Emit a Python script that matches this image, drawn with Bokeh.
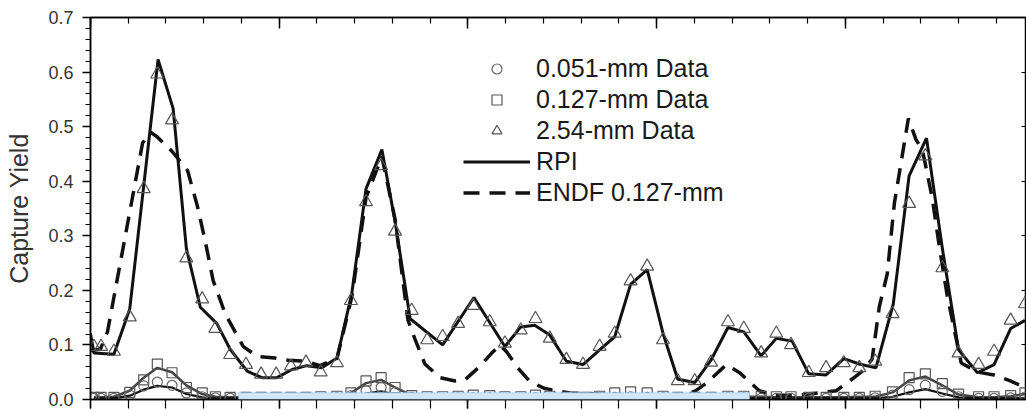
from bokeh.plotting import figure
from bokeh.models import (Range1d, LinearAxis, FixedTicker, CustomJSTickFormatter,
                          Legend, LegendItem, BoxAnnotation)
from bokeh.embed import file_html
from bokeh.resources import INLINE

# ---------------- data ----------------
energy_254 = [0.09, 0.28, 0.62, 1.04, 1.41, 1.77, 2.16, 2.54, 2.96, 3.31,
              3.70, 4.12, 4.52, 4.92, 5.31, 5.71, 6.10, 6.53, 6.90, 7.30,
              7.70, 8.07, 8.51, 8.92, 9.33, 9.74, 10.14, 10.58, 10.98, 11.40,
              11.79, 12.17, 12.61, 13.05, 13.49, 13.89, 14.31, 14.75, 15.17, 15.56,
              16.01, 16.44, 16.89, 17.31, 17.77, 18.17, 18.56, 19.03, 19.49, 19.96,
              20.37, 20.79, 21.25, 21.69, 22.12, 22.57, 23.00, 23.53, 23.94, 24.38, 24.76]
yield_254 = [0.097, 0.097, 0.088, 0.151, 0.386, 0.596, 0.512, 0.259, 0.184, 0.130,
             0.082, 0.064, 0.046, 0.046, 0.061, 0.068, 0.050, 0.067, 0.181, 0.362,
             0.428, 0.308, 0.163, 0.109, 0.115, 0.139, 0.172, 0.142, 0.103, 0.127,
             0.148, 0.112, 0.073, 0.064, 0.097, 0.121, 0.217, 0.244, 0.109, 0.034,
             0.034, 0.068, 0.142, 0.130, 0.085, 0.121, 0.100, 0.049, 0.058, 0.067,
             0.058, 0.070, 0.157, 0.359, 0.446, 0.241, 0.085, 0.064, 0.088, 0.145, 0.175]
yield_127 = [0.004, 0.004, 0.004, 0.013, 0.036, 0.065, 0.049, 0.022, 0.012, 0.005,
             0.004, 0.004, 0.004, 0.004, 0.004, 0.004, 0.005, 0.006, 0.012, 0.034,
             0.040, 0.022, 0.007, 0.005, 0.005, 0.006, 0.008, 0.007, 0.005, 0.005,
             0.008, 0.006, 0.004, 0.004, 0.006, 0.012, 0.014, 0.012, 0.006, 0.004,
             0.004, 0.004, 0.006, 0.006, 0.006, 0.005, 0.005, 0.004, 0.004, 0.004,
             0.004, 0.006, 0.014, 0.040, 0.047, 0.029, 0.010, 0.005, 0.005, 0.007, 0.012]
yield_051 = [0.002, 0.002, 0.002, 0.008, 0.025, 0.032, 0.026, 0.012, 0.005, 0.003,
             0.002, 0.002, 0.002, 0.002, 0.002, 0.002, 0.002, 0.003, 0.007, 0.016,
             0.022, 0.013, 0.004, 0.002, 0.002, 0.003, 0.003, 0.003, 0.002, 0.002,
             0.003, 0.002, 0.002, 0.002, 0.003, 0.004, 0.005, 0.004, 0.003, 0.002,
             0.002, 0.002, 0.003, 0.003, 0.002, 0.002, 0.002, 0.002, 0.002, 0.002,
             0.002, 0.003, 0.008, 0.018, 0.026, 0.015, 0.005, 0.002, 0.002, 0.003, 0.004]
rpi_127 = [0.004, 0.004, 0.005, 0.016, 0.040, 0.058, 0.050, 0.026, 0.010, 0.005,
           0.004, 0.004, 0.004, 0.004, 0.004, 0.004, 0.004, 0.006, 0.012, 0.030,
           0.036, 0.022, 0.007, 0.004, 0.004, 0.005, 0.006, 0.006, 0.005, 0.005,
           0.006, 0.005, 0.004, 0.004, 0.005, 0.008, 0.010, 0.009, 0.005, 0.004,
           0.004, 0.004, 0.005, 0.005, 0.005, 0.004, 0.004, 0.004, 0.004, 0.004,
           0.005, 0.005, 0.013, 0.035, 0.042, 0.026, 0.009, 0.004, 0.004, 0.006, 0.010]
rpi_051 = [0.002, 0.002, 0.002, 0.007, 0.018, 0.025, 0.022, 0.010, 0.004, 0.002,
           0.002, 0.002, 0.002, 0.002, 0.002, 0.002, 0.002, 0.002, 0.004, 0.011,
           0.015, 0.009, 0.003, 0.002, 0.002, 0.002, 0.002, 0.002, 0.002, 0.002,
           0.002, 0.002, 0.002, 0.002, 0.002, 0.003, 0.004, 0.003, 0.002, 0.002,
           0.002, 0.002, 0.002, 0.002, 0.002, 0.002, 0.002, 0.002, 0.002, 0.002,
           0.002, 0.002, 0.005, 0.013, 0.019, 0.011, 0.004, 0.002, 0.002, 0.002, 0.003]

energy_rpi = [0.00, 0.09, 0.62, 1.04, 1.79, 2.19, 2.54, 2.91, 3.35, 3.70,
              4.15, 4.54, 4.94, 5.34, 5.73, 6.13, 6.53, 6.92, 7.30, 7.72,
              8.07, 8.47, 9.33, 10.16, 10.98, 11.40, 11.77, 12.17, 12.61, 13.05,
              13.49, 13.89, 14.31, 14.75, 15.17, 15.56, 16.01, 16.44, 16.89, 17.31,
              17.77, 18.17, 18.59, 19.03, 19.49, 19.96, 20.37, 20.81, 21.27, 21.69,
              22.15, 22.57, 23.00, 23.50, 23.94, 24.38, 24.76]
rpi_254 = [0.121, 0.085, 0.083, 0.166, 0.623, 0.533, 0.277, 0.169, 0.139, 0.092,
           0.052, 0.040, 0.040, 0.055, 0.062, 0.058, 0.076, 0.193, 0.386, 0.458,
           0.326, 0.148, 0.100, 0.187, 0.097, 0.133, 0.136, 0.118, 0.070, 0.064,
           0.091, 0.115, 0.211, 0.238, 0.121, 0.037, 0.031, 0.072, 0.132, 0.124,
           0.080, 0.112, 0.107, 0.047, 0.045, 0.075, 0.065, 0.058, 0.175, 0.410,
           0.479, 0.277, 0.091, 0.049, 0.064, 0.130, 0.145]

energy_endf = [0.00, 0.26, 0.45, 1.38, 1.59, 1.77, 2.17, 2.57, 2.83, 3.04,
               3.25, 3.57, 3.76, 4.05, 4.42, 4.89, 5.24, 5.69, 6.08, 6.53,
               6.93, 7.30, 7.72, 8.07, 8.41, 8.60, 8.86, 9.26, 9.66, 9.92,
               10.32, 10.63, 10.85, 11.03, 11.32, 11.64, 12.04, 12.70, 13.49, 14.55,
               15.61, 16.01, 16.32, 16.85, 17.20, 17.72, 18.12, 18.78, 19.39, 19.76,
               20.19, 20.45, 20.71, 20.90, 21.11, 21.30, 21.67, 21.88, 22.04, 22.30,
               22.49, 22.70, 23.07, 23.52, 23.94, 24.37, 24.76]
endf_yield = [0.090, 0.092, 0.124, 0.470, 0.490, 0.481, 0.454, 0.420, 0.355, 0.290,
              0.218, 0.157, 0.133, 0.097, 0.079, 0.076, 0.072, 0.070, 0.062, 0.075,
              0.190, 0.370, 0.445, 0.330, 0.146, 0.110, 0.065, 0.040, 0.034, 0.036,
              0.061, 0.085, 0.100, 0.087, 0.058, 0.033, 0.020, 0.012, 0.010, 0.008,
              0.008, 0.015, 0.030, 0.064, 0.049, 0.016, 0.008, 0.008, 0.013, 0.016,
              0.038, 0.052, 0.074, 0.170, 0.230, 0.360, 0.515, 0.475, 0.458, 0.370,
              0.280, 0.190, 0.067, 0.050, 0.045, 0.034, 0.022]

y_ticks = [0.0, 0.1, 0.2, 0.3, 0.4, 0.5, 0.6, 0.7]
y_tick_labels = ["0.0", "0.1", "0.2", "0.3", "0.4", "0.5", "0.6", "0.7"]
x_major_ticks = [0, 5, 10, 15, 20]
legend_labels = ["0.051-mm Data", "0.127-mm Data", "2.54-mm Data", "RPI", "ENDF 0.127-mm"]
y_title = "Capture Yield"

FONT = "Liberation Sans"

# ---------------- figure ----------------
p = figure(width=1026, height=410, output_backend="svg", toolbar_location=None,
           x_range=Range1d(0, 24.8), y_range=Range1d(0, 0.7),
           x_axis_location="below", y_axis_location="left",
           min_border_left=90, min_border_top=17, min_border_right=0, min_border_bottom=11)
p.grid.visible = False
p.outline_line_color = "black"
p.outline_line_width = 1.5
p.background_fill_color = "white"
p.border_fill_color = "white"

empty_fmt = CustomJSTickFormatter(code="return ''")
x_minor = [i for i in range(25)]

# bottom (x) axis: outward ticks, labels not visible in the reference
xa = p.xaxis[0]
xa.ticker = FixedTicker(ticks=x_major_ticks, minor_ticks=x_minor)
xa.formatter = empty_fmt
xa.major_tick_in = 0
xa.major_tick_out = 9
xa.minor_tick_in = 0
xa.minor_tick_out = 9
xa.major_label_standoff = 0
xa.axis_line_width = 1.5
xa.major_tick_line_width = 1.5
xa.minor_tick_line_width = 1.2

# top axis: inward ticks
ta = LinearAxis(ticker=FixedTicker(ticks=x_major_ticks, minor_ticks=x_minor), formatter=empty_fmt,
                major_tick_in=11, major_tick_out=0, minor_tick_in=6, minor_tick_out=0,
                major_label_standoff=0, axis_line_width=1.5,
                major_tick_line_width=1.5, minor_tick_line_width=1.2)
p.add_layout(ta, "above")

# left (y) axis
ya = p.yaxis[0]
ya.ticker = FixedTicker(ticks=y_ticks, minor_ticks=[round(i * 0.02, 2) for i in range(36)])
ya.major_label_overrides = {t: s for t, s in zip(y_ticks, y_tick_labels)}
ya.major_tick_out = 8
ya.major_tick_in = 0
ya.minor_tick_out = 5
ya.minor_tick_in = 0
ya.axis_line_width = 1.5
ya.major_tick_line_width = 1.5
ya.minor_tick_line_width = 1.2
ya.major_label_standoff = 9
ya.major_label_text_font = FONT
ya.major_label_text_font_size = "18px"
ya.major_label_text_color = "#333333"
ya.axis_label = y_title
ya.axis_label_text_font = FONT
ya.axis_label_text_font_size = "25px"
ya.axis_label_text_font_style = "normal"
ya.axis_label_text_color = "#333333"
ya.axis_label_standoff = 12

# right axis: inward major ticks only
ra = LinearAxis(ticker=FixedTicker(ticks=y_ticks), formatter=empty_fmt,
                major_tick_in=5, major_tick_out=0, minor_tick_in=0, minor_tick_out=0,
                major_label_standoff=0, axis_line_width=1.5, major_tick_line_width=1.2)
p.add_layout(ra, "right")

# ---------------- glyphs ----------------
p.line(energy_254, rpi_127, line_color="#444444", line_width=2.5)
p.line(energy_254, rpi_051, line_color="#111111", line_width=2.2)
r_endf = p.line(energy_endf, endf_yield, line_color="#111111", line_width=3.5, line_dash="16 10")
r_rpi = p.line(energy_rpi, rpi_254, line_color="#111111", line_width=3)

r_tri = p.scatter(energy_254, yield_254, marker="triangle", size=13,
                  line_color="#555555", fill_color=None, line_width=1.2)
r_sq = p.scatter(energy_254, yield_127, marker="square", size=10,
                 line_color="#555555", fill_color=None, line_width=1.2)
r_circ = p.scatter(energy_254, yield_051, marker="circle", size=10,
                   line_color="#666666", fill_color=None, line_width=1.2)

legend = Legend(items=[LegendItem(label=legend_labels[0], renderers=[r_circ]),
                       LegendItem(label=legend_labels[1], renderers=[r_sq]),
                       LegendItem(label=legend_labels[2], renderers=[r_tri]),
                       LegendItem(label=legend_labels[3], renderers=[r_rpi]),
                       LegendItem(label=legend_labels[4], renderers=[r_endf])],
                location=(373, 192), glyph_width=67, glyph_height=25,
                label_standoff=6, spacing=2, padding=0, margin=0,
                border_line_color=None, background_fill_alpha=0,
                label_text_font=FONT, label_text_font_size="25px",
                label_text_color="#1a1a1a")
p.add_layout(legend)

# light-blue overlay box at the bottom of the picture
box_left, box_right, box_top = 3.92, 17.46, 0.0127
p.add_layout(BoxAnnotation(left=box_left, right=box_right, top=box_top,
                           fill_color="#cfe7fb", fill_alpha=1.0,
                           line_color="#7aaed8", line_width=1.5, level="overlay"))

open("out.html", "w").write(file_html(p, INLINE))
